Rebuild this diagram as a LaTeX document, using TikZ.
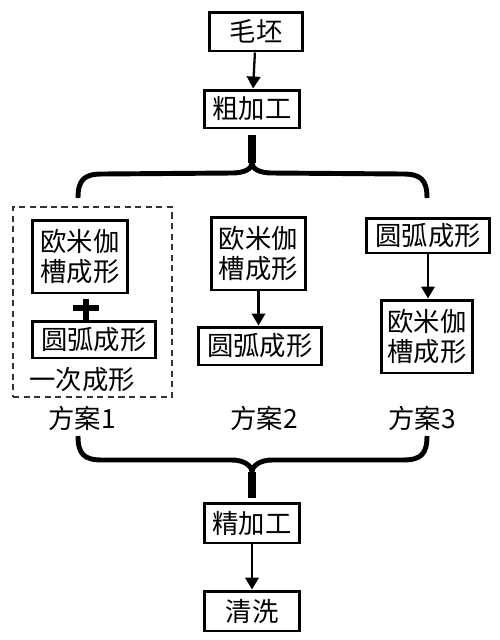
\documentclass[tikz,border=0pt]{standalone}
\usepackage{fontspec}
\newfontfamily\cjk{Noto Sans CJK SC}
\usetikzlibrary{
  arrows.meta,
  positioning,
  calc
}
\tikzset{
  procbox/.style={
    draw=black,
    line width=1.7pt,
    fill=white,
    align=center,
    inner sep=0pt,
    font=\cjk\fontsize{15}{17}\selectfont
  },
  planlabel/.style={font=\cjk\fontsize{15}{17}\selectfont},
  groupbox/.style={draw=black!80,line width=1.1pt,dash pattern=on 3.5pt off 2.5pt,inner sep=0pt},
  flowarrow/.style={-{Triangle[length=2.4mm,width=2.7mm]},line width=1.3pt},
  bracepath/.style={line width=2.8pt},
  stem/.style={line width=4.2pt},
  plusbar/.style={line width=3.8pt}
}

\begin{document}
\begin{tikzpicture}[x=0.02cm,y=-0.02cm]
  \useasboundingbox (0,0) rectangle (500,640);

  % main line
  \node[procbox,minimum width=1.88cm,minimum height=0.78cm] (blank) at (256,31.5) {毛坯};
  \node[procbox,minimum width=1.92cm,minimum height=0.76cm] (rough) at (252,109) {粗加工};
  \node[procbox,minimum width=1.92cm,minimum height=0.80cm] (fine) at (252,523) {精加工};
  \node[procbox,minimum width=1.92cm,minimum height=0.80cm] (wash) at (252,611) {清洗};

  % plan 1
  \node[groupbox,minimum width=3.18cm,minimum height=3.8cm] (onestep) at (92.5,302) {};
  \node[procbox,minimum width=1.92cm,minimum height=1.46cm] (oa) at (80,256.5) {欧米伽\\槽成形};
  \node[procbox,minimum width=2.48cm,minimum height=0.74cm] (ob) at (94,339.5) {圆弧成形};
  \node[planlabel] (onelabel) at (82,380) {一次成形};
  \coordinate (plus) at (86,308);
  \draw[plusbar] ($(plus)+(-13,0)$) -- ($(plus)+(13,0)$);
  \draw[plusbar] ($(plus)+(0,-9)$) -- (ob.north -| plus);

  % plan 2
  \node[procbox,minimum width=1.90cm,minimum height=1.46cm] (ta) at (258.5,253.5) {欧米伽\\槽成形};
  \node[procbox,minimum width=2.48cm,minimum height=0.76cm] (tb) at (260,346) {圆弧成形};

  % plan 3
  \node[procbox,minimum width=2.48cm,minimum height=0.70cm] (ra) at (428,235.5) {圆弧成形};
  \node[procbox,minimum width=1.84cm,minimum height=1.46cm] (rb) at (427,336.5) {欧米伽\\槽成形};

  \node[planlabel] (plan1) at (82,418) {方案1};
  \node[planlabel] (plan2) at (264,418) {方案2};
  \node[planlabel] (plan3) at (422,418) {方案3};

  % arrows
  \draw[flowarrow] (blank) -- (rough);
  \draw[flowarrow] (ta.south) -- (ta.south |- tb.north);
  \draw[flowarrow] (ra.south) -- (ra.south |- rb.north);
  \draw[flowarrow] (fine) -- (wash);

  % upper brace
  \coordinate (tsplit) at (252,163);
  \coordinate (tlend) at (78,198);
  \coordinate (trend) at (427,198);
  \draw[stem,shorten <=3pt] (rough.south) -- (tsplit);
  \draw[bracepath] (tlend) .. controls +(0,-18) and +(-18,0) .. ($(tlend)+(24,-24)$)
    -- ($(tsplit)+(-20,10)$) .. controls +(12,0) and +(0,6) .. (tsplit)
    .. controls +(0,6) and +(-12,0) .. ($(tsplit)+(20,10)$)
    -- ($(trend)+(-24,-24)$) .. controls +(18,0) and +(0,-18) .. (trend);

  % lower brace
  \coordinate (bsplit) at (252,472);
  \coordinate (blend) at (78,436);
  \coordinate (brend) at (427,436);
  \draw[stem,shorten >=2pt] (bsplit) -- (fine.north);
  \draw[bracepath] (blend) .. controls +(0,18) and +(-18,0) .. ($(blend)+(24,24)$)
    -- ($(bsplit)+(-20,-12)$) .. controls +(12,0) and +(0,-6) .. (bsplit)
    .. controls +(0,-6) and +(-12,0) .. ($(bsplit)+(20,-12)$)
    -- ($(brend)+(-24,24)$) .. controls +(18,0) and +(0,18) .. (brend);
\end{tikzpicture}
\end{document}
